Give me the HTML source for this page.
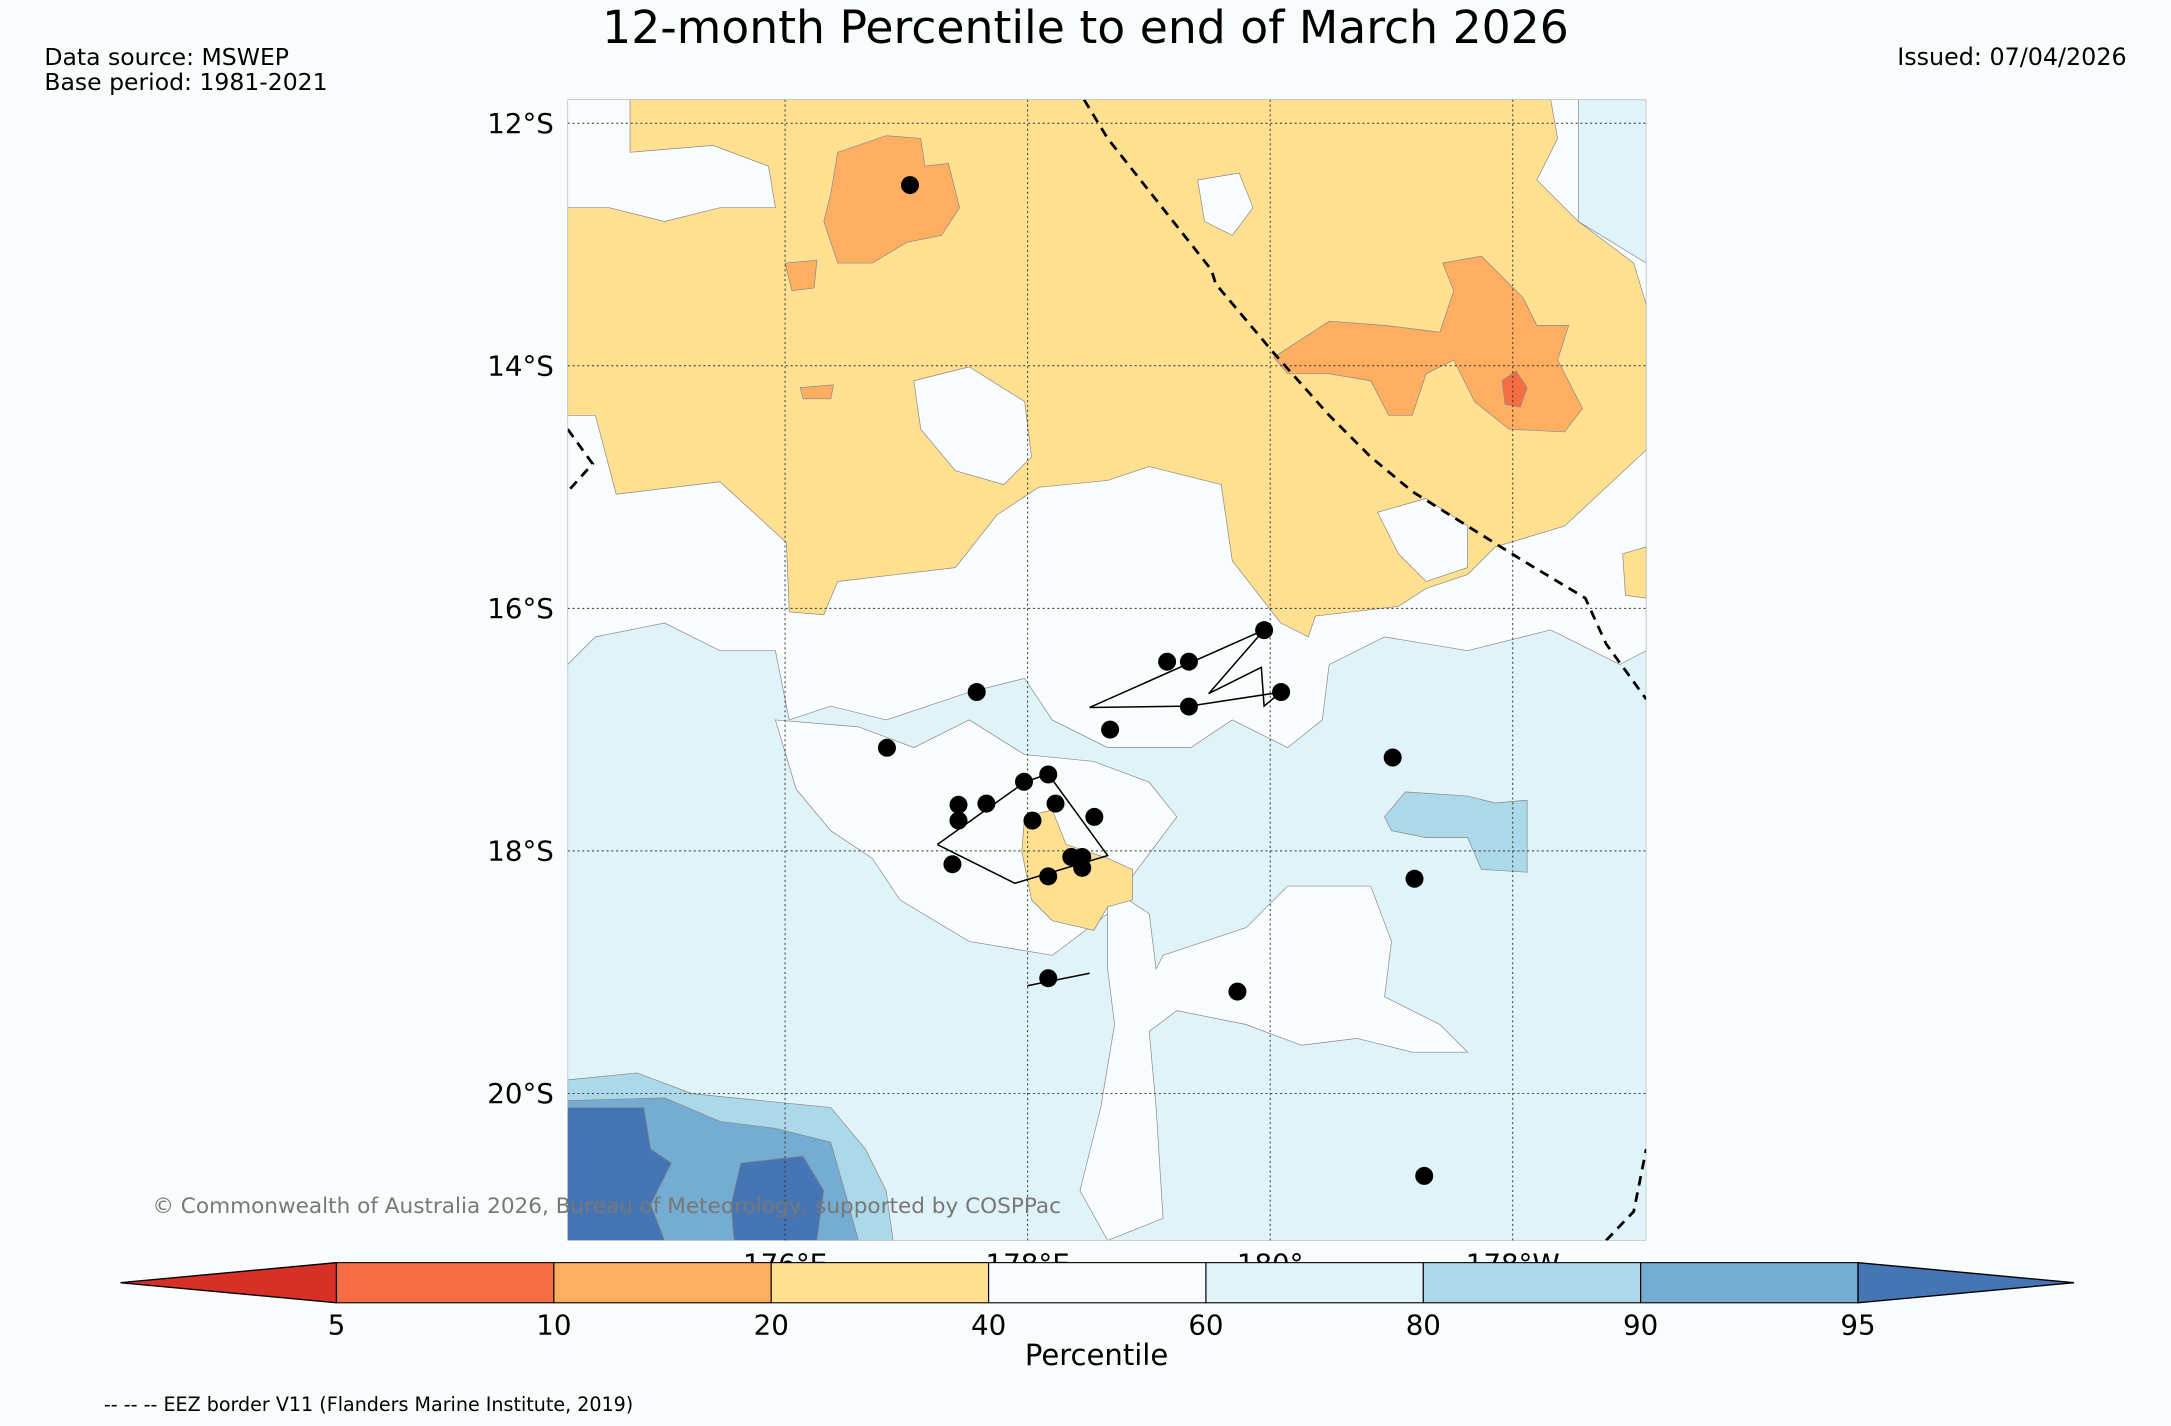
<!DOCTYPE html>
<html><head><meta charset="utf-8"><style>
html,body{margin:0;padding:0;background:#f9fcfd;}
svg{display:block;font-family:"DejaVu Sans","Liberation Sans",sans-serif;}
</style></head><body>
<svg id="chart" width="2171" height="1426" viewBox="0 0 1568 1030" xmlns="http://www.w3.org/2000/svg">
<rect width="1568" height="1030" fill="#f9fcfd"/>
<text x="784" y="31" font-size="33" text-anchor="middle" fill="#000">12-month Percentile to end of March 2026</text>
<text x="32" y="47" font-size="17">Data source: MSWEP</text>
<text x="32" y="65" font-size="17">Base period: 1981-2021</text>
<text x="1536" y="47" font-size="17.2" text-anchor="end">Issued: 07/04/2026</text>
<defs><clipPath id="mapclip"><rect x="410" y="72" width="779" height="824"/></clipPath></defs>
<g id="lonlabels"></g>
<g clip-path="url(#mapclip)" stroke="#888" stroke-width="0.5">
<rect x="410" y="72" width="779" height="824" fill="#e0f3f8"/>
<path fill="#f9fcfd" d="M410,72 L1140,72 L1140,160 L1189,190 L1189,340 L1189,470 L1170,480 L1120,455 L1060,470 L1000,460 L960,480 L955,520 L930,540 L890,520 L860,540 L800,540 L760,520 L740,490 L700,500 L640,520 L600,510 L570,520 L560,470 L520,470 L480,450 L430,460 L410,480 Z"/>
<path fill="#f9fcfd" d="M560,520 L620,525 L660,540 L700,520 L740,545 L790,550 L830,565 L850,590 L820,630 L800,660 L760,690 L700,680 L650,650 L630,620 L600,600 L575,570 Z"/>
<path fill="#f9fcfd" d="M800,640 L830,660 L835,700 L840,690 L900,670 L930,640 L990,640 L1005,680 L1000,720 L1040,740 L1060,760 L1020,760 L980,750 L940,755 L900,740 L850,730 L830,745 L835,800 L840,880 L800,896 L780,860 L795,800 L805,740 L800,700 Z"/>
<path fill="#fee090" d="M455,72 L1120,72 L1125,100 L1110,130 L1140,160 L1180,190 L1189,220 L1189,325 L1130,380 L1080,395 L1060,415 L1030,425 L1010,438 L950,445 L945,460 L925,450 L890,405 L882,350 L830,337 L800,347 L750,352 L720,372 L690,410 L605,420 L595,444 L570,442 L568,392 L520,348 L445,357 L430,300 L410,300 L410,150 L440,150 L480,160 L520,150 L560,150 L555,120 L515,105 L455,110 Z"/>
<path fill="#f9fcfd" d="M660,275 L700,265 L740,290 L745,330 L725,350 L690,340 L665,310 Z"/>
<path fill="#f9fcfd" d="M865,130 L895,125 L905,150 L890,170 L870,160 Z"/>
<path fill="#f9fcfd" d="M995,370 L1030,360 L1060,380 L1060,410 L1030,420 L1010,400 Z"/>
<path fill="#fdae61" d="M605,110 L640,98 L665,100 L668,120 L685,118 L693,150 L680,170 L655,175 L630,190 L605,190 L595,160 L600,140 Z"/>
<path fill="#fdae61" d="M920,258 L960,232 L1000,235 L1040,240 L1050,210 L1042,190 L1070,185 L1100,215 L1110,235 L1133,235 L1125,260 L1143,295 L1130,312 L1090,310 L1065,290 L1050,260 L1030,270 L1020,300 L1003,300 L990,275 L960,270 L930,270 Z"/>
<path fill="#fdae61" d="M567,190 L590,188 L588,208 L572,210 Z M578,280 L602,278 L600,288 L580,288 Z"/>
<path fill="#f46d43" d="M1085,275 L1095,268 L1103,280 L1098,294 L1087,292 Z"/>
<path fill="#fee090" d="M740,590 L760,585 L770,610 L800,620 L818,628 L818,650 L800,655 L790,672 L760,665 L745,650 L738,615 Z"/>
<path fill="#fee090" d="M1172,400 L1189,395 L1189,432 L1174,430 Z"/>
<path fill="#abd9e9" d="M1000,590 L1015,572 L1060,575 L1080,580 L1103,578 L1103,630 L1070,628 L1060,605 L1030,605 L1005,600 Z"/>
<path fill="#abd9e9" d="M410,780 L460,775 L500,790 L550,795 L600,800 L625,830 L640,860 L645,896 L410,896 Z"/>
<path fill="#74add1" d="M410,795 L480,793 L520,810 L560,815 L600,825 L610,860 L620,896 L410,896 Z"/>
<path fill="#4575b4" d="M410,800 L465,800 L470,830 L485,840 L470,870 L480,896 L410,896 Z"/>
<path fill="#4575b4" d="M535,840 L580,835 L595,860 L590,896 L530,896 L528,870 Z"/>
</g>
<g id="grid" clip-path="url(#mapclip)" stroke="#333" stroke-width="0.7" stroke-dasharray="1.5,2"></g>
<g clip-path="url(#mapclip)" fill="none" stroke="#000" stroke-width="2" stroke-dasharray="7,5">
<polyline points="783,72 800,100 875,195 878,205 920,255 960,300 990,330 1020,355 1060,380 1100,405 1145,432 1160,465 1189,505"/>
<polyline points="410,310 428,335 410,355"/>
<polyline points="1160,896 1180,875 1189,830"/>
</g>
<g fill="none" stroke="#000" stroke-width="1.1">
<polyline points="787,511 913,455 873,501 911,482 913,510 925,500 859,510 787,511"/>
<polyline points="677,610 740,565 757,559 800,618 733,638 677,610"/>
<polyline points="742,712 787,703"/>
</g>
<g id="stations"></g>
<g id="latlabels"></g>
<text x="110" y="876" font-size="15.6" fill="#777">© Commonwealth of Australia 2026, Bureau of Meteorology, supported by COSPPac</text>
<g id="colorbar"></g>
<text x="792" y="986" font-size="21" text-anchor="middle">Percentile</text>
<text x="75" y="1019" font-size="13.8">-- -- -- EEZ border V11 (Flanders Marine Institute, 2019)</text>
</svg>
<script>
const lonTicks=[176,178,180,182];
const lonLabels=["176°E","178°E","180°","178°W"];
const latTicks=[-12,-14,-16,-18,-20];
const latLabels=["12°S","14°S","16°S","18°S","20°S"];
const stationLon=[177.03,177.58,176.84,179.15,179.33,179.95,180.09,179.33,178.68,181.01,177.43,177.66,177.97,178.17,178.23,178.04,177.43,178.55,177.38,178.17,178.36,178.45,178.45,181.19,178.17,179.73,181.27];
const stationLat=[-12.51,-16.69,-17.15,-16.44,-16.44,-16.18,-16.69,-16.81,-17.00,-17.23,-17.62,-17.61,-17.43,-17.37,-17.61,-17.75,-17.75,-17.72,-18.11,-18.21,-18.05,-18.05,-18.14,-18.23,-19.05,-19.16,-20.68];
const levels=[5,10,20,40,60,80,90,95];
const bandColors=["#d73027","#f46d43","#fdae61","#fee090","#f9fcfd","#e0f3f8","#abd9e9","#74add1","#4575b4"];
const NS="http://www.w3.org/2000/svg";
const xLon=l=>567+(l-176)*87.6;
const yLat=l=>89+(-12-l)*87.6;
function mk(t,a,p){const e=document.createElementNS(NS,t);for(const k in a)e.setAttribute(k,a[k]);p.appendChild(e);return e;}
const grid=document.getElementById('grid');
lonTicks.forEach(l=>{const e=mk('line',{x1:xLon(l),x2:xLon(l),y1:72,y2:896},grid);

});
latTicks.forEach(l=>{const e=mk('line',{x1:410,x2:1189,y1:yLat(l),y2:yLat(l)},grid);

});
const latG=document.getElementById('latlabels');
latTicks.forEach((l,i)=>{const e=mk('text',{x:400,y:yLat(l)+7,'font-size':20,'text-anchor':'end'},latG);e.textContent=latLabels[i];

});
const lonG=document.getElementById('lonlabels');
lonTicks.forEach((l,i)=>{const e=mk('text',{x:xLon(l),y:920,'font-size':20,'text-anchor':'middle'},lonG);e.textContent=lonLabels[i];

});
const st=document.getElementById('stations');
stationLon.forEach((l,i)=>{const e=mk('circle',{cx:xLon(l),cy:yLat(stationLat[i]),r:6.5,fill:'#000'},st);

});
const cb=document.getElementById('colorbar');
const cbX0=243,cbW=157,cbY=912,cbH=29;
const xl=i=>cbX0+i*cbW;
const n=levels.length;
let t=mk('polygon',{points:`${xl(0)-156},${cbY+cbH/2} ${xl(0)},${cbY} ${xl(0)},${cbY+cbH}`,fill:bandColors[0],stroke:'#000','stroke-width':1},cb);


for(let i=0;i<n-1;i++){const r=mk('rect',{x:xl(i),y:cbY,width:cbW,height:cbH,fill:bandColors[i+1],stroke:'#000','stroke-width':0.8},cb);

}
t=mk('polygon',{points:`${xl(n-1)},${cbY} ${xl(n-1)+156},${cbY+cbH/2} ${xl(n-1)},${cbY+cbH}`,fill:bandColors[n],stroke:'#000','stroke-width':1},cb);


levels.forEach((v,i)=>{const e=mk('text',{x:xl(i),y:964,'font-size':20,'text-anchor':'middle'},cb);e.textContent=v;

});
</script>
</body></html>
